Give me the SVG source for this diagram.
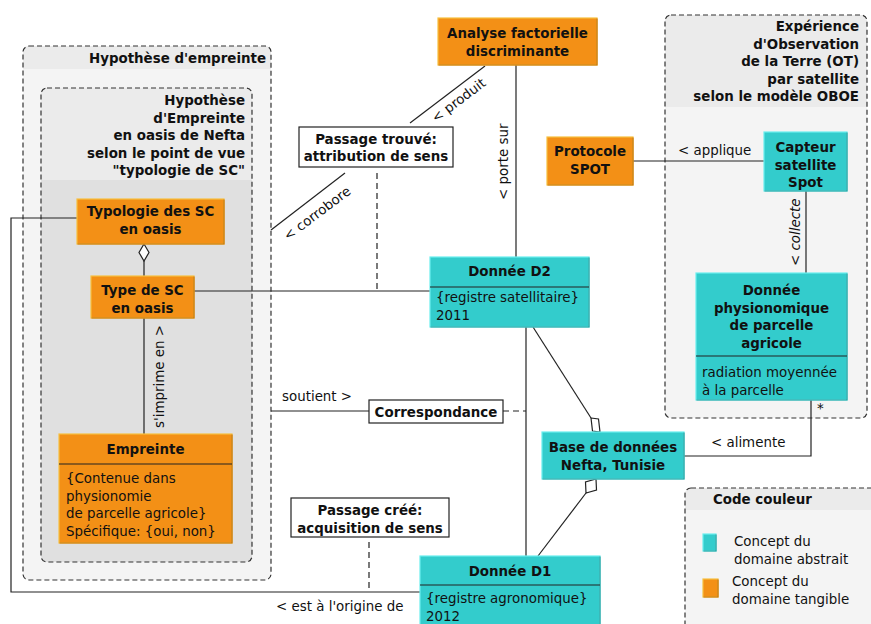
<svg xmlns="http://www.w3.org/2000/svg" width="871" height="624" viewBox="0 0 871 624">
<style>
text{font-family:"DejaVu Sans","Noto Sans",sans-serif;font-size:13.4px;fill:#111}
.b{font-weight:bold}
.m{text-anchor:middle}
.e{text-anchor:end}
.pkgline{fill:none;stroke:#333;stroke-width:1.2;stroke-dasharray:5,3}
.hdr{fill:#ebebeb}
.body{fill:#f4f4f4}
.body2{fill:#e0e0e0}
.or{fill:#f39016;stroke:#f7c040;stroke-width:1.2}
.cy{fill:#33cccc;stroke:#6beeee;stroke-width:1.2}
.ordk{fill:none;stroke:#c4740c;stroke-width:1.2}
.cydk{fill:none;stroke:#2a9d9d;stroke-width:1.2}
.wb{fill:#fff;stroke:#222;stroke-width:1.2}
.ln{fill:none;stroke:#222;stroke-width:1.2}
.dl{fill:none;stroke:#222;stroke-width:1.2;stroke-dasharray:6,4}
.sep{stroke:#222;stroke-width:1.2}
.dia{fill:#fff;stroke:#222;stroke-width:1.2}
</style>

<g id="pkg-hypothese-empreinte">
<rect x="23" y="46" width="248" height="534" rx="6" class="body"/>
<path d="M23,69 V52 Q23,46 29,46 H265 Q271,46 271,52 V69 Z" class="hdr"/>
<rect x="23" y="46" width="248" height="534" rx="6" class="pkgline"/>
<text x="266" y="63" class="b e">Hypothèse d'empreinte</text>
</g>

<g id="pkg-hypothese-nefta">
<rect x="41" y="88" width="211" height="474" rx="6" class="body2"/>
<path d="M41,180 V94 Q41,88 47,88 H246 Q252,88 252,94 V180 Z" class="hdr"/>
<rect x="41" y="88" width="211" height="474" rx="6" class="pkgline"/>
<text x="245" y="105" class="b e">Hypothèse</text>
<text x="245" y="122.5" class="b e">d'Empreinte</text>
<text x="245" y="140" class="b e">en oasis de Nefta</text>
<text x="245" y="157.5" class="b e">selon le point de vue</text>
<text x="245" y="175" class="b e">"typologie de SC"</text>
</g>

<g id="pkg-experience-ot">
<rect x="665" y="15" width="202" height="403" rx="6" class="body"/>
<path d="M665,107 V21 Q665,15 671,15 H861 Q867,15 867,21 V107 Z" class="hdr"/>
<rect x="665" y="15" width="202" height="403" rx="6" class="pkgline"/>
<text x="859" y="31" class="b e">Expérience</text>
<text x="859" y="48.5" class="b e">d'Observation</text>
<text x="859" y="66" class="b e">de la Terre (OT)</text>
<text x="859" y="83.5" class="b e">par satellite</text>
<text x="859" y="101" class="b e">selon le modèle OBOE</text>
</g>

<g id="connectors">
<polyline points="77,218 11,218 11,592 420,592" class="ln"/>
<text x="276" y="611">&lt; est à l'origine de</text>
<line x1="144" y1="261" x2="144" y2="276" class="ln"/>
<path d="M144,244 L149,252.5 L144,261 L139,252.5 Z" class="dia"/>
<line x1="144" y1="318" x2="144" y2="434" class="ln"/>
<text transform="translate(164,428) rotate(-90)">s'imprime en &gt;</text>
<line x1="194" y1="291" x2="430" y2="291" class="ln"/>
<line x1="516" y1="65" x2="516" y2="257" class="ln"/>
<text transform="translate(508,200) rotate(-90)">&lt; porte sur</text>
<line x1="485" y1="66" x2="410" y2="123" class="ln"/>
<text transform="translate(436,123) rotate(-37)">&lt; produit</text>
<line x1="345" y1="173" x2="271" y2="230" class="ln"/>
<text transform="translate(288,241) rotate(-37)">&lt; corrobore</text>
<line x1="377" y1="173" x2="377" y2="291" class="dl"/>
<line x1="271" y1="411" x2="369" y2="411" class="ln"/>
<text x="282" y="401">soutient &gt;</text>
<line x1="503" y1="411" x2="526" y2="411" class="dl"/>
<line x1="526" y1="327" x2="526" y2="556" class="ln"/>
<line x1="533" y1="327" x2="591" y2="418" class="ln"/>
<path d="M591,418 L598.5,419 L600,432 L592.5,431 Z" class="dia"/>
<line x1="586" y1="493" x2="538" y2="556" class="ln"/>
<path d="M596,479 L596.5,490 L586,493 L585.5,482 Z" class="dia"/>
<polyline points="684,456 811,456 811,400" class="ln"/>
<text x="711" y="447">&lt; alimente</text>
<text x="817" y="413">*</text>
<line x1="633" y1="161" x2="764" y2="161" class="ln"/>
<text x="678" y="155">&lt; applique</text>
<line x1="806" y1="191" x2="806" y2="273" class="ln"/>
<text transform="translate(800,266) rotate(-90)" font-style="italic">&lt; collecte</text>
<line x1="369" y1="542" x2="369" y2="592" class="dl"/>
</g>

<g id="node-typologie">
<rect x="77" y="199" width="147" height="45" class="or"/>
<polyline points="77.5,244 224,244 224,199.5" class="ordk"/>
<text x="150.5" y="216" class="b m">Typologie des SC</text>
<text x="150.5" y="234" class="b m">en oasis</text>
</g>

<g id="node-type-sc">
<rect x="91" y="276" width="103" height="42" class="or"/>
<polyline points="91.5,318 194,318 194,276.5" class="ordk"/>
<text x="142.5" y="295" class="b m">Type de SC</text>
<text x="142.5" y="312.5" class="b m">en oasis</text>
</g>

<g id="node-empreinte">
<rect x="59" y="434" width="173" height="109" class="or"/>
<polyline points="59.5,543 232,543 232,434.5" class="ordk"/>
<text x="145.5" y="454" class="b m">Empreinte</text>
<line x1="59" y1="464" x2="232" y2="464" class="sep"/>
<text x="66" y="483">{Contenue dans</text>
<text x="66" y="500.5">physionomie</text>
<text x="66" y="518">de parcelle agricole}</text>
<text x="66" y="535.5">Spécifique: {oui, non}</text>
</g>

<g id="node-analyse">
<rect x="438" y="18" width="159" height="47" class="or"/>
<polyline points="438.5,65 597,65 597,18.5" class="ordk"/>
<text x="517.5" y="38" class="b m">Analyse factorielle</text>
<text x="517.5" y="55.5" class="b m">discriminante</text>
</g>

<g id="node-passage-trouve">
<rect x="299" y="127" width="154" height="40" class="wb"/>
<text x="376" y="144" class="b m">Passage trouvé:</text>
<text x="376" y="161" class="b m">attribution de sens</text>
</g>

<g id="node-protocole">
<rect x="547" y="137" width="86" height="48" class="or"/>
<polyline points="547.5,185 633,185 633,137.5" class="ordk"/>
<text x="590" y="156" class="b m">Protocole</text>
<text x="590" y="173.5" class="b m">SPOT</text>
</g>

<g id="node-capteur">
<rect x="764" y="132" width="83" height="59" class="cy"/>
<polyline points="764.5,191 847,191 847,132.5" class="cydk"/>
<text x="805.5" y="152" class="b m">Capteur</text>
<text x="805.5" y="169.5" class="b m">satellite</text>
<text x="805.5" y="187" class="b m">Spot</text>
</g>

<g id="node-d2">
<rect x="430" y="257" width="159" height="70" class="cy"/>
<polyline points="430.5,327 589,327 589,257.5" class="cydk"/>
<text x="509.5" y="276" class="b m">Donnée D2</text>
<line x1="430" y1="287" x2="589" y2="287" class="sep"/>
<text x="436" y="302">{registre satellitaire}</text>
<text x="436" y="319.5">2011</text>
</g>

<g id="node-physionomique">
<rect x="696" y="273" width="151" height="127" class="cy"/>
<polyline points="696.5,400 847,400 847,273.5" class="cydk"/>
<text x="771.5" y="295" class="b m">Donnée</text>
<text x="771.5" y="312.5" class="b m">physionomique</text>
<text x="771.5" y="330" class="b m">de parcelle</text>
<text x="771.5" y="347.5" class="b m">agricole</text>
<line x1="696" y1="356" x2="847" y2="356" class="sep"/>
<text x="702" y="377">radiation moyennée</text>
<text x="702" y="394.5">à la parcelle</text>
</g>

<g id="node-correspondance">
<rect x="369" y="400" width="134" height="23" class="wb"/>
<text x="436" y="417" class="b m">Correspondance</text>
</g>

<g id="node-base">
<rect x="542" y="432" width="142" height="47" class="cy"/>
<polyline points="542.5,479 684,479 684,432.5" class="cydk"/>
<text x="613" y="452" class="b m">Base de données</text>
<text x="613" y="469.5" class="b m">Nefta, Tunisie</text>
</g>

<g id="node-passage-cree">
<rect x="291" y="498" width="158" height="39" class="wb"/>
<text x="370" y="515" class="b m">Passage créé:</text>
<text x="370" y="532.5" class="b m">acquisition de sens</text>
</g>

<g id="node-d1">
<rect x="420" y="556" width="180" height="80" class="cy"/>
<polyline points="420.5,636 600,636 600,556.5" class="cydk"/>
<text x="510" y="576" class="b m">Donnée D1</text>
<line x1="420" y1="585" x2="600" y2="585" class="sep"/>
<text x="426" y="603">{registre agronomique}</text>
<text x="426" y="620.5">2012</text>
</g>

<g id="legend">
<rect x="685" y="488" width="200" height="160" rx="6" class="body"/>
<path d="M685,510 V494 Q685,488 691,488 H885 V510 Z" class="hdr"/>
<rect x="685" y="488" width="200" height="160" rx="6" class="pkgline"/>
<text x="713" y="504" class="b">Code couleur</text>
<rect x="703" y="534" width="13" height="17" class="cy"/>
<polyline points="703.5,551 716,551 716,534.5" class="cydk"/>
<text x="734" y="546">Concept du</text>
<text x="734" y="563.5">domaine abstrait</text>
<rect x="703" y="579" width="15" height="18" class="or"/>
<polyline points="703.5,597 718,597 718,579.5" class="ordk"/>
<text x="732" y="586">Concept du</text>
<text x="732" y="603.5">domaine tangible</text>
</g>
</svg>
